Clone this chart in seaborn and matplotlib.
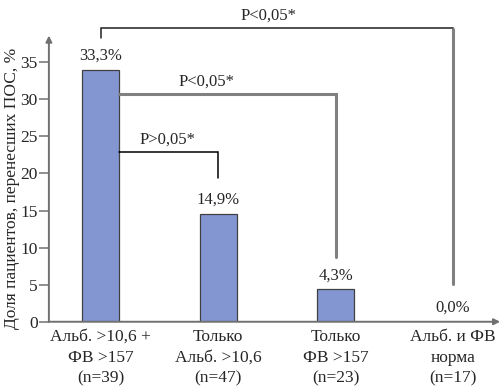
import matplotlib
matplotlib.use("Agg")
import matplotlib.pyplot as plt
import seaborn as sns
import pandas as pd

# Данные
groups = ["Альб. >10,6 +\nФВ >157\n(n=39)",
          "Только\nАльб. >10,6\n(n=47)",
          "Только\nФВ >157\n(n=23)",
          "Альб. и ФВ\nнорма\n(n=17)"]
heights = [34.0, 14.6, 4.4, 0.0]
value_labels = ["33,3%", "14,9%", "4,3%", "0,0%"]
y_ticks = [0, 5, 10, 15, 20, 25, 30, 35]
p_labels = ["P>0,05*", "P<0,05*", "P<0,05*"]

df = pd.DataFrame({"group": groups, "share": heights})

sns.set_style("white")
plt.rcParams["font.family"] = ["Liberation Serif", "DejaVu Serif"]

fig = plt.figure(figsize=(5.04, 3.90), dpi=100)
ax = fig.add_axes([0.097, 0.175, 0.903, 0.825])

sns.barplot(data=df, x="group", y="share", ax=ax, color="#8496d2",
            saturation=1, width=0.315, edgecolor="#404040", linewidth=0.9)

ax.set_xlim(-0.443, 3.433)
ax.set_ylim(0, 43.4)
axis_col = "#707070"

# оси со стрелками
for s in ["top", "right", "left", "bottom"]:
    ax.spines[s].set_visible(False)
ax.annotate("", xy=(-0.443, 38.6), xytext=(-0.443, 0),
            arrowprops=dict(arrowstyle="-|>", color=axis_col, lw=1.4,
                            mutation_scale=9, shrinkA=0, shrinkB=0),
            annotation_clip=False)
ax.annotate("", xy=(3.40, 0), xytext=(-0.443, 0),
            arrowprops=dict(arrowstyle="-|>", color=axis_col, lw=1.4,
                            mutation_scale=9, shrinkA=0, shrinkB=0),
            annotation_clip=False)

ax.set_yticks(y_ticks)
ax.set_yticklabels([str(t) for t in y_ticks], fontsize=12.5)
ax.tick_params(axis="y", direction="out", length=7, width=1.1, color=axis_col,
               left=True, pad=1)
ax.tick_params(axis="x", length=0, pad=5, labelsize=12.5)
for lbl in ax.get_xticklabels():
    lbl.set_linespacing(1.42)
ax.set_xlabel("")
ax.set_ylabel("Доля пациентов, перенесших ПОС, %", fontsize=12.5)
ax.yaxis.set_label_coords(-0.064, 0.416)

# подписи значений
for i, (h, t) in enumerate(zip(heights, value_labels)):
    ax.text(i, h + 0.8, t, ha="center", va="bottom", fontsize=12)

hw = 0.315 / 2
# скобки сравнения
ax.plot([hw, hw, 1, 1], [22.9, 22.9, 22.9, 19.4], color="black", lw=1.1,
        solid_joinstyle="miter")
ax.plot([hw, 2, 2], [30.7, 30.7, 8.8], color="#808080", lw=2.2,
        solid_joinstyle="miter")
ax.plot([0, 0, 3, 3], [38.3, 39.6, 39.6, 5.1], color="#202020", lw=1.1,
        solid_joinstyle="miter", clip_on=False)
ax.plot([3, 3], [39.5, 5.1], color="#808080", lw=2.2)

ax.text(0.57, 23.5, p_labels[0], ha="center", va="bottom", fontsize=12)
ax.text(0.90, 31.3, p_labels[1], ha="center", va="bottom", fontsize=12)
ax.text(1.43, 40.2, p_labels[2], ha="center", va="bottom", fontsize=12)

fig.savefig("out.png", dpi=100)
